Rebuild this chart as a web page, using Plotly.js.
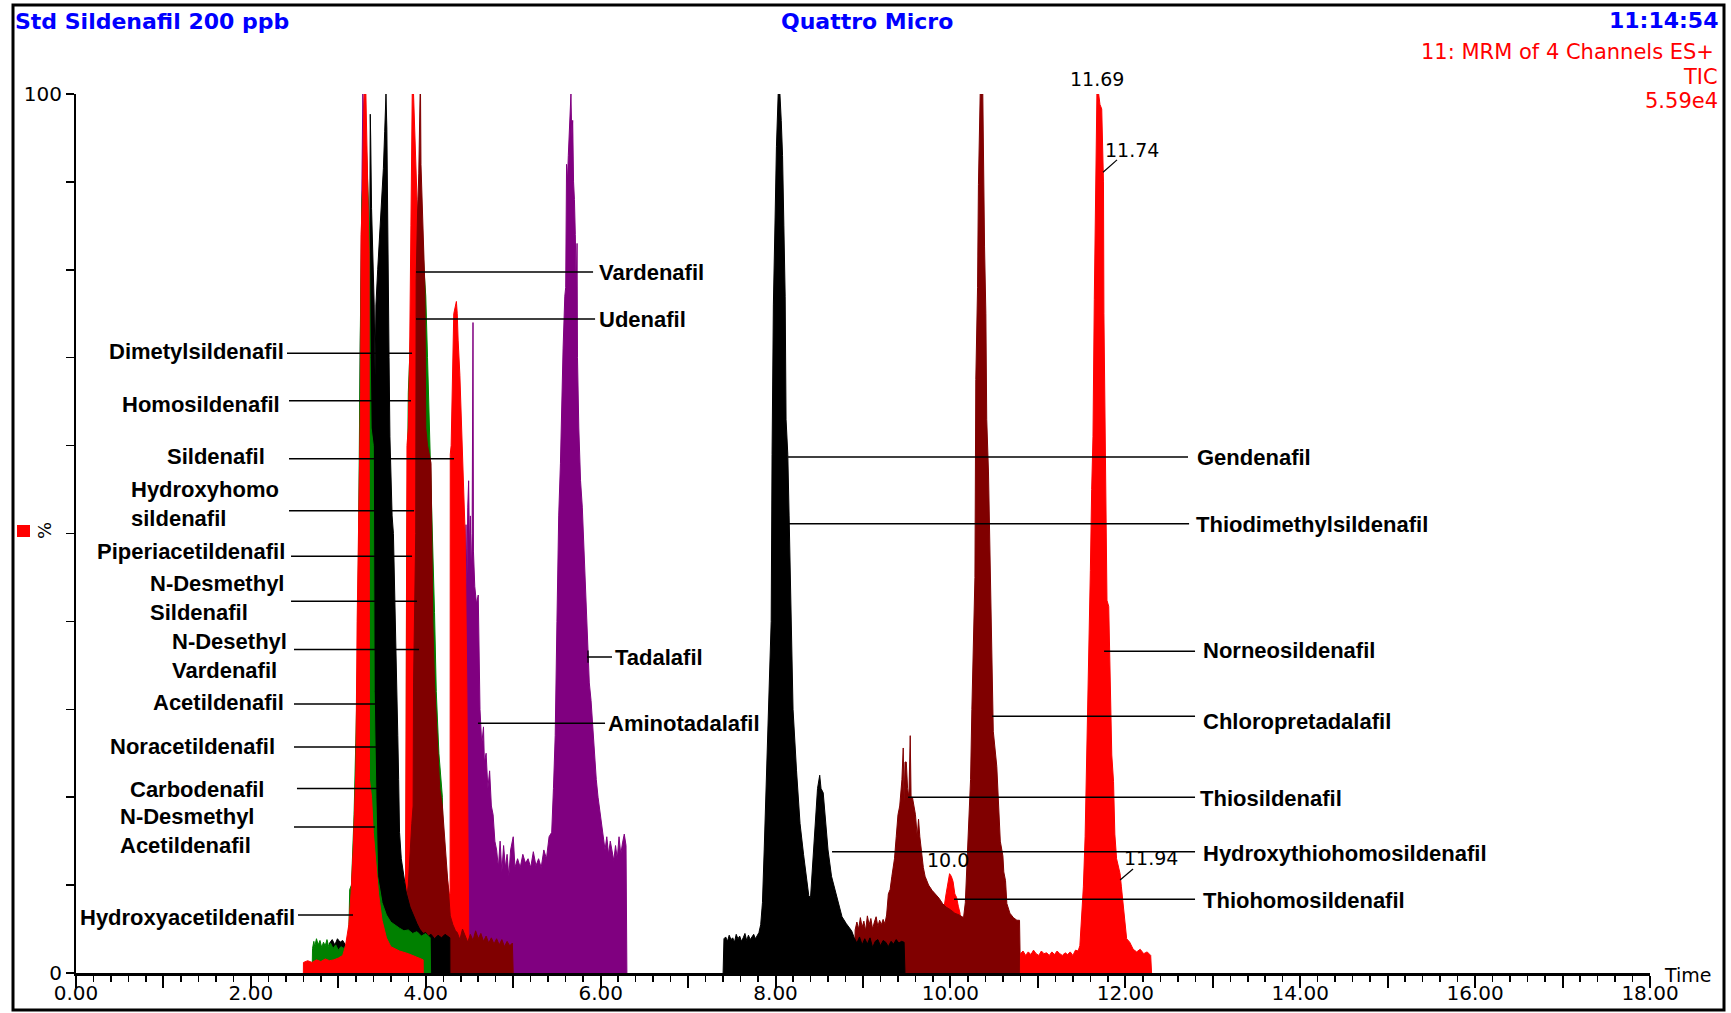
<!DOCTYPE html>
<html>
<head>
<meta charset="utf-8">
<script src="https://cdn.plot.ly/plotly-3.0.1.min.js"></script>
<style>html,body{margin:0;padding:0;background:#fff;}#chart{width:1731px;height:1013px;}</style>
</head>
<body>
<div id="chart"></div>
<script>
// ---------- DATA (time in min, intensity in %) ----------
const purpleA_t = [3.18,3.19,3.20,3.21,3.23,3.25,3.27,3.28,3.29,3.30,3.32,3.34,3.36];
const purpleA_y = [0,22,26,24,40,70,96,100,98,85,50,20,0];

const purpleB_t = [4.44,4.45,4.46,4.47,4.48,4.49,4.50,4.51,4.52,4.53,4.54,4.545,4.56,4.58,4.60,4.61,4.62,4.64,4.66,4.67,4.69,4.71,4.73,4.75,4.77,4.79,4.81,4.83,4.85,4.87,4.89,4.91,4.93,4.95,4.97,5.00,5.02,5.05,5.08,5.11,5.14,5.17,5.20,5.23,5.26,5.29,5.32,5.35,5.38,5.41,5.44,5.46,5.48,5.50,5.52,5.54,5.555,5.57,5.59,5.60,5.61,5.62,5.63,5.65,5.66,5.67,5.68,5.69,5.70,5.71,5.72,5.73,5.735,5.75,5.77,5.79,5.81,5.83,5.85,5.87,5.89,5.91,5.93,5.95,5.97,5.99,6.01,6.03,6.05,6.07,6.09,6.11,6.13,6.15,6.17,6.19,6.21,6.23,6.25,6.27,6.29,6.30];
const purpleB_y = [0,45,51,44,53,56,48,52,45,50,74,48,44,42,43,36,30,26,28,24,25,21,23,19,18,15,14,12,15,11.5,14.5,12,13.5,11,14,15.5,12,13,12,13.5,12.5,13,12,13.8,12.2,13,12,14,13,15.5,16,21,27,40,52,58,66,71,77,78,92,90,93,97,100,95,97,90,88,84,78,83,70,62,56,53,48,41,36,33,31,28,24,22,20,18.5,16.5,15.5,14,15.5,13.5,15,14,12.8,14.5,13,15.5,13.5,14.8,15.8,14.5,0];

const greenB_t = [3.775,3.78,3.80,3.82,3.84,3.87,3.90,3.93,3.96,3.98,4.00,4.02,4.04,4.06,4.08,4.10,4.12,4.15,4.19,4.21,4.22];
const greenB_y = [0,44,66,72,76,80,84,86,84,80,77,70,63,58,51,41,32,25,20,9,0];

const redB_t = [3.765,3.77,3.78,3.785,3.80,3.815,3.83,3.845,3.86,3.87,3.88,3.90,3.95,4.00,4.05,4.10,4.15,4.20,4.24,4.27,4.278,4.28,4.29,4.305,4.32,4.35,4.36,4.37,4.39,4.41,4.43,4.45,4.47,4.48,4.49,4.495];
const redB_y = [0,12,38,60,62,70,85,100,100,97,93,88,75,55,38,24,18,14,11,9,9,59,60,67,75,76.4,75,72,68,62,57,50,32,14,7,0];

const redC_t = [9.90,9.92,9.95,9.97,9.99,10.01,10.03,10.05,10.07,10.09,10.11,10.12];
const redC_y = [0,7,9,10,11.3,11,10.4,9,8.6,7.6,6.8,0];

const maroonA_t = [3.77,3.775,3.80,3.82,3.84,3.855,3.86,3.885,3.89,3.905,3.92,3.935,3.94,3.945,3.96,3.975,3.99,4.00,4.02,4.06,4.07,4.08,4.10,4.13,4.16,4.19,4.22,4.24,4.26,4.28,4.31,4.34,4.36,4.39,4.42,4.45,4.48,4.51,4.54,4.57,4.60,4.63,4.66,4.69,4.72,4.75,4.78,4.81,4.84,4.87,4.90,4.93,4.96,4.99,5.00];
const maroonA_y = [0,8,10,14,17,19,33,50,79,86,91,100,100,92,87,82,78,62,60,58,50,40,33,26,21,19,15,12,9,6.5,5.5,4.8,4.6,3.8,5.0,4.2,3.5,4.4,3.7,4.8,3.9,4.5,3.6,4.2,3.4,4.0,3.3,3.9,3.2,3.8,3.0,3.6,3.1,3.4,0];

const maroonB_t = [8.90,8.91,8.93,8.95,8.97,8.99,9.01,9.03,9.05,9.07,9.09,9.11,9.13,9.15,9.17,9.19,9.21,9.23,9.25,9.27,9.29,9.31,9.33,9.36,9.38,9.40,9.42,9.445,9.46,9.47,9.48,9.495,9.51,9.525,9.54,9.55,9.565,9.58,9.60,9.62,9.635,9.65,9.67,9.69,9.71,9.75,9.79,9.83,9.87,9.91,9.95,10.00,10.05,10.10,10.15,10.17,10.19,10.21,10.23,10.245,10.26,10.28,10.29,10.31,10.32,10.34,10.37,10.38,10.39,10.405,10.415,10.435,10.45,10.46,10.48,10.49,10.53,10.55,10.57,10.60,10.61,10.63,10.645,10.68,10.72,10.76,10.79,10.80];
const maroonB_y = [0,4.9,5.8,5.0,6.3,5.2,5.9,4.8,6.5,5.5,6.2,5.0,5.8,6.4,5.3,6.0,5.5,6.1,5.6,6.6,9,9.5,11,13,15.5,18,19,22,25.6,19.5,24,24,21,20,27,20,20,19,18,15.5,17.5,15.5,13.6,12,11,10,9.4,9.0,8.5,7.9,7.5,7.2,6.8,6.6,6.3,8,13,17.5,22,30,37,45,67.5,78,89.7,100,100,90,82.6,75,63,57,48,42,35,27.5,23.5,19,15,13.3,11.5,10.5,7.9,6.8,6.3,6.0,6.0,0];

const blackA_t = [2.89,2.90,2.93,2.96,2.99,3.02,3.05,3.08,3.12,3.20,3.30,3.35,3.36,3.365,3.37,3.38,3.395,3.41,3.42,3.43,3.45,3.48,3.50,3.515,3.53,3.54,3.545,3.555,3.565,3.58,3.59,3.60,3.615,3.63,3.645,3.66,3.68,3.69,3.70,3.72,3.74,3.78,3.82,3.86,3.90,3.93,3.97,4.00,4.03,4.06,4.10,4.14,4.18,4.22,4.26,4.275,4.276];
const blackA_y = [0,3.4,3.8,3.2,3.9,3.5,3.7,3.2,3.0,5,20,40,84,97.7,95,87,82,76,68,76,80,85,88,91.5,95.7,100,100,96,81,70,61,56,52,50,44,36,27,22,16,13,11.5,9,7.5,6.5,5.6,5,4.5,4.6,4.2,4.4,3.9,4.3,4.0,4.4,4.1,4.0,0];

const blackB_t = [7.40,7.41,7.43,7.45,7.47,7.49,7.51,7.53,7.55,7.57,7.59,7.61,7.63,7.65,7.67,7.69,7.71,7.73,7.75,7.77,7.79,7.81,7.83,7.85,7.87,7.89,7.91,7.93,7.95,7.96,7.975,7.995,8.01,8.03,8.05,8.065,8.08,8.095,8.11,8.12,8.14,8.155,8.165,8.18,8.20,8.24,8.26,8.28,8.32,8.36,8.38,8.40,8.42,8.44,8.46,8.48,8.505,8.52,8.545,8.57,8.60,8.64,8.68,8.72,8.76,8.81,8.87,8.90,8.93,8.96,8.99,9.02,9.05,9.08,9.11,9.14,9.17,9.20,9.23,9.26,9.29,9.32,9.35,9.38,9.41,9.44,9.47,9.48];
const blackB_y = [0,3.9,4.1,3.6,4.3,3.8,4.0,3.5,4.4,3.9,4.2,3.6,4.0,4.5,3.7,4.3,3.8,4.1,4.4,3.9,4.2,4.6,5.5,8,14,20,27,33,40,59,76,86,94,100,100,97,93,85,77,63,59,52,46,38,30,23,20,17,13.5,10,8.8,8.6,12,15,19,21,22.5,21,20.5,17,14,11,9.5,7.8,6.4,5.6,4.8,4.0,3.4,4.1,3.2,3.9,3.3,4.0,2.9,3.6,3.8,3.1,3.7,3.5,3.0,3.6,3.3,3.8,3.4,3.6,3.5,0];

const greenA_t = [2.70,2.705,2.72,2.73,2.75,2.77,2.79,2.81,2.83,2.85,2.87,2.89,2.91,2.94,2.97,3.00,3.03,3.06,3.09,3.12,3.13,3.15,3.18,3.22,3.25,3.26,3.27,3.30,3.32,3.335,3.345,3.355,3.365,3.375,3.40,3.41,3.43,3.45,3.50,3.55,3.60,3.65,3.70,3.75,3.80,3.85,3.90,3.95,4.00,4.05,4.055];
const greenA_y = [0,2.8,3.6,3.0,3.9,3.2,3.7,2.9,3.5,3.1,3.8,3.0,3.4,2.8,3.2,2.6,3.0,2.8,3.2,4.5,9.5,10,18,35,72,84,88,93,94,90,87,85,70,62,60,32,20,11,8,6.6,5.8,5.4,5.1,4.8,4.9,4.5,4.7,4.2,4.5,4.0,0];

const redA_t = [2.60,2.601,2.65,2.70,2.75,2.80,2.85,2.90,2.95,3.00,3.05,3.08,3.12,3.145,3.17,3.19,3.20,3.215,3.225,3.24,3.255,3.26,3.275,3.285,3.295,3.315,3.33,3.345,3.352,3.356,3.38,3.40,3.43,3.46,3.50,3.55,3.60,3.70,3.80,3.90,3.97,3.971];
const redA_y = [0,1.2,1.4,1.2,1.5,1.3,1.6,1.4,1.5,1.7,2.0,3.0,5.5,9,14,20,23,40,48,60,66,84,88,95,100,100,92,85,82,22,20,16,12,9,6,4,3,2.5,2.2,1.8,1.5,0];

const redD_t = [10.80,10.801,10.83,10.86,10.89,10.92,10.95,10.98,11.01,11.04,11.07,11.10,11.13,11.16,11.19,11.22,11.25,11.28,11.31,11.34,11.37,11.40,11.43,11.46,11.48,11.50,11.52,11.54,11.56,11.58,11.60,11.615,11.63,11.645,11.66,11.675,11.695,11.71,11.73,11.74,11.75,11.755,11.77,11.785,11.79,11.81,11.825,11.845,11.865,11.88,11.90,11.94,11.955,11.975,11.995,12.015,12.05,12.09,12.13,12.17,12.21,12.25,12.29,12.30];
const redD_y = [0,2.2,2.5,2.0,2.4,2.1,2.6,2.2,2.0,2.5,2.2,2.3,2.0,2.4,2.1,2.5,2.2,2.0,2.3,2.1,2.4,2.0,2.6,2.5,3.1,6,9.8,15.5,24.8,33.7,45.8,55,61,76.6,92.9,100,100,98.8,98.3,92.9,90,75,63.5,51,42.4,41.7,33.2,24.8,21.8,15.8,13,11.3,9.8,7.9,6,3.9,3.5,2.7,2.4,2.7,2.2,2.4,2.0,0];

const xTickVals = [0,1,2,3,4,5,6,7,8,9,10,11,12,13,14,15,16,17,18];
const xTickText = ['0.00','','2.00','','4.00','','6.00','','8.00','','10.00','','12.00','','14.00','','16.00','','18.00'];
const yTickVals = [0,10,20,30,40,50,60,70,80,90,100];
const yTickText = ['0','','','','','','','','','','100'];

// compound labels: [text, text x, text y, line x0, line x1, line y]
const leftLabels = [
  ['Dimetylsildenafil', 2.40, 70.7, 2.413, 3.843, 70.5],
  ['Homosildenafil', 2.36, 64.7, 2.436, 3.831, 65.1],
  ['Sildenafil', 2.18, 58.8, 2.436, 4.323, 58.5],
  ['Hydroxyhomo<br>sildenafil', 2.34, 53.4, 2.436, 3.866, 52.6],
  ['Piperiacetildenafil', 2.41, 47.9, 2.459, 3.843, 47.4],
  ['N-Desmethyl<br>Sildenafil', 2.40, 42.7, 2.459, 3.90, 42.3],
  ['N-Desethyl<br>Vardenafil', 2.44, 36.1, 2.493, 3.923, 36.8],
  ['Acetildenafil', 2.40, 30.8, 2.493, 3.431, 30.6],
  ['Noracetildenafil', 2.30, 25.8, 2.493, 3.431, 25.7],
  ['Carbodenafil', 2.17, 20.9, 2.527, 3.454, 21.0],
  ['N-Desmethyl<br>Acetildenafil', 2.06, 16.2, 2.493, 3.42, 16.6],
  ['Hydroxyacetildenafil', 2.53, 6.3, 2.539, 3.168, 6.6]
];
const rightLabels = [
  ['Vardenafil', 5.958, 79.75, 3.888, 5.913, 79.75],
  ['Udenafil', 5.958, 74.4, 3.888, 5.936, 74.4],
  ['Tadalafil', 6.141, 35.95, 5.844, 6.13, 35.95],
  ['Aminotadalafil', 6.061, 28.4, 4.597, 6.05, 28.4],
  ['Gendenafil', 12.797, 58.6, 8.143, 12.717, 58.7],
  ['Thiodimethylsildenafil', 12.786, 51.0, 8.143, 12.729, 51.1],
  ['Norneosildenafil', 12.866, 36.7, 11.757, 12.797, 36.6],
  ['Chloropretadalafil', 12.866, 28.6, 10.476, 12.797, 29.2],
  ['Thiosildenafil', 12.832, 19.9, 9.515, 12.797, 20.0],
  ['Hydroxythiohomosildenafil', 12.866, 13.65, 8.646, 12.797, 13.8],
  ['Thiohomosildenafil', 12.866, 8.2, 10.041, 12.797, 8.4]
];
// peak retention-time labels inside the plot: [text, x, y, xanchor]
const peakLabels = [
  ['11.74', 11.745, 93.6, 'left'],
  ['10.0', 9.71, 12.9, 'left'],
  ['11.94', 11.962, 13.1, 'left']
];
const topPeakLabel = ['11.69', 11.677];
const peakLeaders = [[11.905, 92.5, 11.745, 91.1], [12.088, 11.83, 11.94, 10.58]];

// ---------- LAYOUT ----------
const W = 1731, H = 1013, ML = 76, MR = 81, MT = 94, MB = 40;
const PW = W - ML - MR, PH = H - MT - MB;
const pxX = X => (X - ML) / PW;
const pxY = Y => (H - MB - Y) / PH;

const RED = '#FF0000', GREEN = '#008000', BLACK = '#000000', MAROON = '#800000', PURPLE = '#800080';
function area(t, y, c) {
  return {x: t, y: y, type: 'scatter', mode: 'lines', fill: 'tozeroy', fillcolor: c,
          line: {color: c, width: 1}, hoverinfo: 'skip', showlegend: false};
}
const data = [
  area(purpleA_t, purpleA_y, PURPLE),
  area(purpleB_t, purpleB_y, PURPLE),
  area(greenB_t, greenB_y, GREEN),
  area(redB_t, redB_y, RED),
  area(redC_t, redC_y, RED),
  area(maroonA_t, maroonA_y, MAROON),
  area(maroonB_t, maroonB_y, MAROON),
  area(blackA_t, blackA_y, BLACK),
  area(blackB_t, blackB_y, BLACK),
  area(greenA_t, greenA_y, GREEN),
  area(redA_t, redA_y, RED),
  area(redD_t, redD_y, RED)
];

const boldLbl = {family: 'Liberation Sans, Arial, sans-serif', size: 22, color: '#000', weight: 'bold'};
const annotations = [];
const shapes = [];
leftLabels.forEach(l => {
  annotations.push({x: l[1], y: l[2], xref: 'x', yref: 'y', text: '<b>' + l[0].replace('<br>', '</b><br><b>') + '</b>', showarrow: false,
    xanchor: 'right', yanchor: 'middle', align: 'left', font: boldLbl});
  shapes.push({type: 'line', xref: 'x', yref: 'y', x0: l[3], x1: l[4], y0: l[5], y1: l[5], line: {color: '#000', width: 1.5}});
});
rightLabels.forEach(l => {
  annotations.push({x: l[1], y: l[2], xref: 'x', yref: 'y', text: '<b>' + l[0] + '</b>', showarrow: false,
    xanchor: 'left', yanchor: 'middle', align: 'left', font: boldLbl});
  shapes.push({type: 'line', xref: 'x', yref: 'y', x0: l[3], x1: l[4], y0: l[5], y1: l[5], line: {color: '#000', width: 1.5}});
});
shapes.push({type: 'line', xref: 'x', yref: 'y', x0: 5.855, x1: 5.855, y0: 35.3, y1: 36.7, line: {color: '#000', width: 1.2}});
const peakFont = {family: 'DejaVu Sans, sans-serif', size: 19, color: '#000'};
peakLabels.forEach(p => {
  annotations.push({x: p[1], y: p[2], xref: 'x', yref: 'y', text: p[0], showarrow: false, xanchor: p[3], yanchor: 'middle', font: peakFont});
});
annotations.push({x: topPeakLabel[1], xref: 'x', y: pxY(79), yref: 'paper', text: topPeakLabel[0], showarrow: false,
  xanchor: 'center', yanchor: 'middle', font: peakFont});
peakLeaders.forEach(p => {
  shapes.push({type: 'line', xref: 'x', yref: 'y', x0: p[0], y0: p[1], x1: p[2], y1: p[3], line: {color: '#000', width: 1.2}});
});

const blueBold = {family: 'DejaVu Sans, sans-serif', size: 22, color: '#0000FF', weight: 'bold'};
const redReg = {family: 'DejaVu Sans, sans-serif', size: 21, color: '#FF0000'};
annotations.push(
  {xref: 'paper', yref: 'paper', x: pxX(13), y: pxY(22), text: '<b>Std Sildenafil 200 ppb</b>', showarrow: false, xanchor: 'left', yanchor: 'middle', font: blueBold},
  {xref: 'paper', yref: 'paper', x: pxX(867), y: pxY(22), text: '<b>Quattro Micro</b>', showarrow: false, xanchor: 'center', yanchor: 'middle', font: blueBold},
  {xref: 'paper', yref: 'paper', x: pxX(1720), y: pxY(20), text: '<b>11:14:54</b>', showarrow: false, xanchor: 'right', yanchor: 'middle', font: blueBold},
  {xref: 'paper', yref: 'paper', x: pxX(1716), y: pxY(52), text: '11: MRM of 4 Channels ES+', showarrow: false, xanchor: 'right', yanchor: 'middle', font: redReg},
  {xref: 'paper', yref: 'paper', x: pxX(1720), y: pxY(77), text: 'TIC', showarrow: false, xanchor: 'right', yanchor: 'middle', font: redReg},
  {xref: 'paper', yref: 'paper', x: pxX(1720), y: pxY(101), text: '5.59e4', showarrow: false, xanchor: 'right', yanchor: 'middle', font: redReg},
  {xref: 'paper', yref: 'paper', x: pxX(1662), y: pxY(975), text: 'Time', showarrow: false, xanchor: 'left', yanchor: 'middle', font: {family: 'DejaVu Sans, sans-serif', size: 19, color: '#000'}},
  {xref: 'paper', yref: 'paper', x: pxX(44), y: pxY(531), text: '%', showarrow: false, xanchor: 'center', yanchor: 'middle', textangle: -90, font: {family: 'DejaVu Sans, sans-serif', size: 18, color: '#000'}}
);
shapes.push(
  {type: 'rect', xref: 'paper', yref: 'paper', x0: pxX(17), x1: pxX(30), y0: pxY(537), y1: pxY(525), fillcolor: RED, line: {width: 0}},
  {type: 'rect', xref: 'paper', yref: 'paper', x0: pxX(13), x1: pxX(1724), y0: pxY(1010), y1: pxY(5), line: {color: '#000', width: 3}}
);

const tickFont = {family: 'DejaVu Sans, sans-serif', size: 20, color: '#000'};
const layout = {
  width: W, height: H,
  margin: {l: ML, r: MR, t: MT, b: MB, pad: 0},
  paper_bgcolor: '#fff', plot_bgcolor: '#fff',
  showlegend: false,
  xaxis: {range: [0, 18], showline: true, linecolor: '#000', linewidth: 2.5, mirror: false,
    ticks: 'outside', tickmode: 'array', tickvals: xTickVals, ticktext: xTickText,
    ticklen: 12, tickwidth: 2, tickcolor: '#000', tickfont: tickFont, ticklabelstandoff: -12,
    minor: {tickmode: 'linear', tick0: 0, dtick: 0.2, ticks: 'outside', ticklen: 6, tickwidth: 1.5, tickcolor: '#000', showgrid: false},
    showgrid: false, zeroline: false, fixedrange: true, automargin: false},
  yaxis: {range: [0, 100], showline: true, linecolor: '#000', linewidth: 2,
    ticks: 'outside', tickmode: 'array', tickvals: yTickVals, ticktext: yTickText,
    ticklen: 8, tickwidth: 1.5, tickcolor: '#000', tickfont: tickFont,
    showgrid: false, zeroline: false, fixedrange: true, automargin: false},
  annotations: annotations,
  shapes: shapes
};
Plotly.newPlot('chart', data, layout, {staticPlot: true, displayModeBar: false});
</script>
</body>
</html>
